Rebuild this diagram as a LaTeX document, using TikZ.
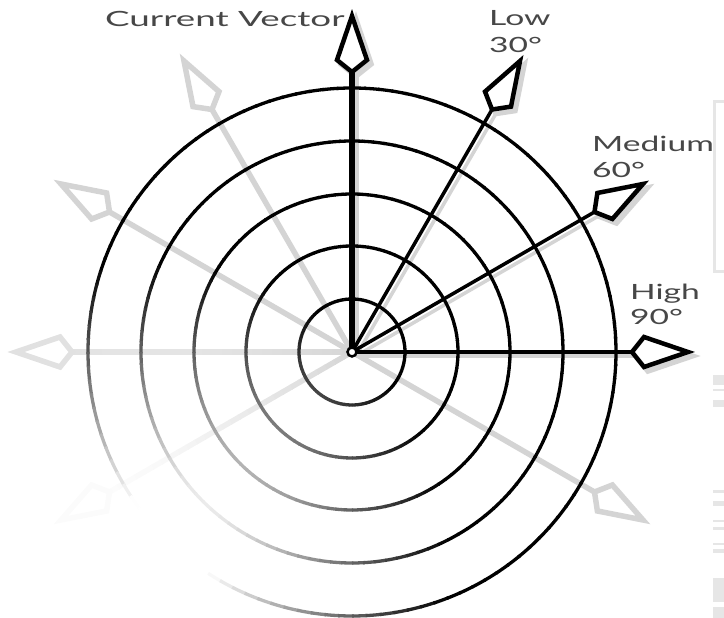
\documentclass[tikz,border=0pt]{standalone}
\usepackage{fontspec}
\setmainfont{Lato}[Numbers=SlashedZero]

\definecolor{ghostgray}{HTML}{D4D4D4}
\definecolor{edgegray}{HTML}{E6E6E6}

\begin{document}
\begin{tikzpicture}[x=1pt,y=1pt]
  \tikzstyle{ring}=[line width=3.3pt]
  \tikzstyle{ghost}=[draw=ghostgray,line width=5.5pt,line join=miter]
  \tikzstyle{drop}=[xshift=4pt,yshift=-4pt]
  \tikzstyle{shaft}=[draw,line width=3.5pt]
  \tikzstyle{head}=[draw,fill=white,line width=4.5pt,line join=miter]
  \tikzstyle{lab}=[anchor=base west,inner sep=0pt,text=black!72,
    font=\fontsize{21}{21}\selectfont]
  \def\wide#1{\scalebox{1.6}[1]{#1}}
  % one spoke: angle, scope style, shaft style, head style
  \def\spoke#1#2#3#4{%
    \begin{scope}[shift={(c)},#2,rotate=#1]
      \path [#3] (0,0) -- (280,0) ;
      \path [#4] (280,0) -- (292,15) -- (336,0) -- (292,-15) -- cycle ;
    \end{scope}}
  % strength left at angle #1, radius #2 (fades out round the lower left)
  \def\fade#1#2{\pgfmathsetmacro\k{max(0,min(100,(veclen(202+(#2)*cos(#1),208+(#2)*sin(#1))-60)/2.4))}}
  % grey spoke that fades out
  \def\fadespoke#1{%
    \foreach \d in {0,10,...,270} {
      \fade{#1}{\d+5}
      \path [draw=ghostgray!\k,line width=5.5pt]
        ([shift={(#1:\d)}]c) -- ([shift={(#1:\d+11)}]c) ;
    }
    \fade{#1}{300}
    \spoke{#1}{}{draw=none}{ghost,draw=ghostgray!\k}}

  \useasboundingbox (0,0) rectangle (724,618) ;
  \coordinate (c) at (352,266) ;

  \spoke{120}{}{ghost}{ghost}
  \spoke{150}{}{ghost}{ghost}
  \fadespoke{180}
  \fadespoke{210}
  \spoke{330}{}{ghost}{ghost}

  \spoke{90}{drop}{ghost,line width=6pt}{ghost,fill=ghostgray}
  \spoke{60}{drop}{ghost,line width=3.5pt}{ghost,fill=ghostgray}
  \spoke{30}{drop}{ghost,line width=3.5pt}{ghost,fill=ghostgray}
  \spoke{0}{drop}{ghost,line width=3.5pt}{ghost,fill=ghostgray}

  % rings, drawn in short arcs so they can fade
  \foreach \r in {53,106,158,211,264} {
    \foreach \a in {0,3,...,357} {
      \fade{\a+1.5}{\r}
      \path [ring,draw=black!\k] ([shift={(\a:\r)}]c)
        arc [start angle=\a,end angle=\a+3.4,radius=\r] ;
    }
  }

  \spoke{90}{}{shaft,line width=6pt}{head}
  \spoke{60}{}{shaft}{head}
  \spoke{30}{}{shaft}{head}
  \spoke{0}{}{shaft}{head}
  \path [draw,fill=white,line width=2.5pt] (c) circle (4.5) ;

  \node [lab] (cur) at (105,591) {\scalebox{1.75}[1]{Current Vector}} ;
  \node [lab] (low) at (489,592) {\wide{Low}} ;
  \node [lab] (lowdeg) at (489,565) {\wide{30°}} ;
  \node [lab] (med) at (592,466) {\wide{Medium}} ;
  \node [lab] (meddeg) at (592,440) {\wide{60°}} ;
  \node [lab] (high) at (630,318) {\wide{High}} ;
  \node [lab] (highdeg) at (630,293) {\wide{90°}} ;

  % cut-off pieces at the right edge
  \path [draw=edgegray,line width=3pt] (730,346) -- (714.5,346) -- (714.5,516) -- (730,516) ;
  \path [fill=edgegray] (713,243) rectangle (724,233) ;
  \path [fill=edgegray] (713,229) rectangle (724,227) ;
  \path [fill=edgegray] (713,218) rectangle (724,211) ;
  \path [fill=edgegray] (713,128) rectangle (724,125) ;
  \path [fill=edgegray] (713,117) rectangle (724,112) ;
  \path [fill=edgegray] (713,98) rectangle (724,96) ;
  \path [fill=edgegray] (713,91) rectangle (724,88) ;
  \path [fill=edgegray] (713,75) rectangle (724,73) ;
  \path [fill=edgegray] (713,69) rectangle (724,65) ;
  \path [fill=edgegray] (713,40) rectangle (724,16) ;
  \path [fill=edgegray] (713,11) rectangle (724,0) ;
\end{tikzpicture}
\end{document}
